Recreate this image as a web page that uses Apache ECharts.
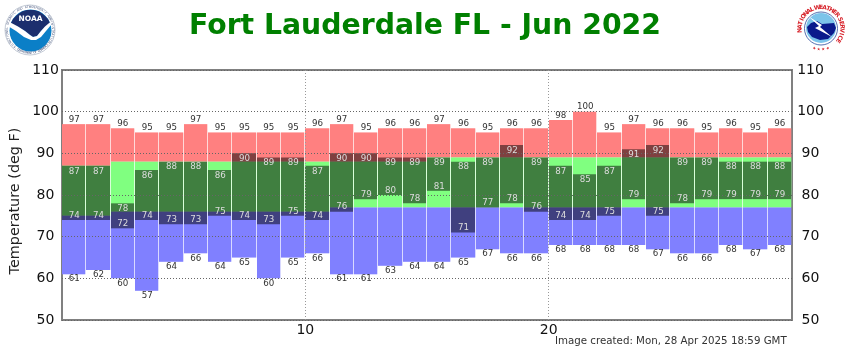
<!DOCTYPE html>
<html>
<head>
<meta charset="utf-8">
<style>html,body{margin:0;padding:0;background:#fff}#c{width:850px;height:350px}</style>
<script src="https://cdn.jsdelivr.net/npm/echarts@6/dist/echarts.min.js"></script>
</head>
<body>
<div id="c"></div>
<script>
const titleText = "Fort Lauderdale FL - Jun 2022";
const yAxisName = "Temperature (deg F)";
const createdText = "Image created: Mon, 28 Apr 2025 18:59 GMT";
const days = [1,2,3,4,5,6,7,8,9,10,11,12,13,14,15,16,17,18,19,20,21,22,23,24,25,26,27,28,29,30];
const recordHigh = [97,97,96,95,95,97,95,95,95,95,96,97,95,96,96,97,96,95,96,96,98,100,95,97,96,96,95,96,95,96];
const normalHigh = [87,87,88,88,88,88,88,88,88,88,88,88,88,88,88,89,89,89,89,89,89,89,89,89,89,89,89,89,89,89];
const observedHigh = [87,87,78,86,88,88,86,90,89,89,87,90,90,89,89,89,88,89,92,89,87,85,87,91,92,89,89,88,88,88];
const observedLow = [74,74,72,74,73,73,75,74,73,75,74,76,79,80,78,81,71,77,78,76,74,74,75,79,75,78,79,79,79,79];
const normalLow = [75,75,76,76,76,76,76,76,76,76,76,77,77,77,77,77,77,77,77,77,77,77,77,77,77,77,77,77,77,77];
const recordLow = [61,62,60,57,64,66,64,65,60,65,66,61,61,63,64,64,65,67,66,66,68,68,68,68,67,66,66,68,67,68];

const chart = echarts.init(document.getElementById('c'), null, {renderer:'canvas'});
const FONT = '"DejaVu Sans", sans-serif';

function rangeSeries(name, lows, highs, fill, edge, z) {
  return {
    name, type:'custom', z, silent:true, clip:true,
    data: days.map((d,i)=>[d, lows[i], highs[i]]),
    encode:{x:0, y:[1,2]},
    renderItem(params, api){
      const d = api.value(0), lo = api.value(1), hi = api.value(2);
      if (hi <= lo) return {type:'group', children:[]};
      const a = api.coord([d-1, hi]), b = api.coord([d, lo]);
      const x0 = Math.round(a[0]), x1 = Math.round(b[0]);
      const y = a[1], h = b[1]-a[1];
      const children = [];
      if (edge) children.push({type:'rect', shape:{x:x0, y, width:x1-x0, height:h}, style:{fill:edge}});
      children.push({type:'rect', shape:{x:x0, y, width:x1-x0-1, height:h}, style:{fill}});
      return {type:'group', children};
    }
  };
}
function labelSeries(name, vals, dy, color, z) {
  return {
    name, type:'custom', z, silent:true, clip:false,
    data: days.map((d,i)=>[d, vals[i]]),
    encode:{x:0, y:1},
    renderItem(params, api){
      const d = api.value(0), v = api.value(1);
      const p = api.coord([d-0.5, v]);
      return {type:'text', z2:100,
        style:{text:String(v), x:p[0], y:p[1]+dy, fill:color,
          align:'center', verticalAlign:'middle', font:'8.7px '+FONT}};
    }
  };
}

// Logos
const g = [];
function ringText(text, cx, cy, r, startDeg, endDeg, fill, font, flip){
  const n = text.length;
  for (let i=0;i<n;i++){
    const t = startDeg + (endDeg-startDeg)*(i+0.5)/n;
    const rad = t*Math.PI/180;
    g.push({type:'text', x:cx+r*Math.sin(rad), y:cy-r*Math.cos(rad),
      rotation: flip ? -(t-180)*Math.PI/180 : -rad, silent:true,
      style:{text:text[i], fill, font, align:'center', verticalAlign:'middle'}});
  }
}
function poly(points, fill){ g.push({type:'polygon', silent:true, shape:{points}, style:{fill}}); }
// NOAA
g.push({type:'circle', shape:{cx:30,cy:30,r:25}, style:{fill:'#fff', stroke:'#9aa6b8', lineWidth:0.6}, silent:true});
g.push({type:'circle', shape:{cx:30.5,cy:30.5,r:21}, style:{fill:'#0b7fc7'}, silent:true});
poly([[10.5,24],[13,19],[17,15],[22,11.5],[27,10],[34,10],[39,11.5],[44,15],[48,19],[50.5,24],[45,27],[41,31],[37,36],[33,37],[30,35],[25,31],[18,27]], '#1c2f6e');
poly([[9.5,22],[18,26.5],[25,31],[30,35],[33,37],[37,36],[41,31],[45,26.5],[51.5,21],[51,25],[46,31],[41,37],[36,40],[31,40],[24,37],[16,31],[9.5,27]], '#fff');
g.push({type:'text', x:30.5, y:19, silent:true, style:{text:'NOAA', fill:'#fff', font:'bold 7.5px '+FONT, align:'center', verticalAlign:'middle'}});
ringText('NATIONAL OCEANIC AND ATMOSPHERIC ADMINISTRATION', 30, 30, 23, -125, 125, '#46557c', '3px '+FONT);
ringText('U.S. DEPARTMENT OF COMMERCE', 30, 30, 23, 232, 128, '#46557c', '3px '+FONT, true);
// NWS
g.push({type:'circle', shape:{cx:821,cy:28.5,r:16.5}, style:{fill:'#fff', stroke:'#2a4a9a', lineWidth:0.8}, silent:true});
g.push({type:'circle', shape:{cx:821,cy:28,r:15}, style:{fill:'#7cc4ea'}, silent:true});
poly([[807,27],[811,23],[817,21],[822,24],[834,23],[836,28],[834,33],[828,39],[820,40],[812,37],[808,32]], '#0a1a8c');
poly([[808,16],[822,25],[820,27],[832,37],[815,28],[819,26]], '#fff');
ringText('NATIONAL', 821, 28.5, 21, -100, -20, '#d7222a', 'bold 6px '+FONT);
ringText('WEATHER', 821, 28.5, 21, -15, 55, '#d7222a', 'bold 6px '+FONT);
ringText('SERVICE', 821, 28.5, 21, 60, 130, '#d7222a', 'bold 6px '+FONT);
ringText('\u2605\u2605\u2605\u2605', 821, 28.5, 21, 205, 155, '#d7222a', '4px '+FONT, true);
// Footer and rotated axis title
g.push({type:'text', x:555, y:341, silent:true, style:{text:createdText, fill:'#333', font:'10.25px '+FONT, verticalAlign:'middle'}});
g.push({type:'text', x:15.5, y:201, rotation:Math.PI/2, silent:true, style:{text:yAxisName, fill:'#222', font:'14.4px '+FONT, align:'center', verticalAlign:'middle'}});

chart.setOption({
  animation:false,
  backgroundColor:'#fff',
  title:{text:titleText, left:'center', top:5, textStyle:{color:'#008000', fontFamily:'"DejaVu Sans"', fontWeight:'bold', fontSize:28.3, lineHeight:34}},
  grid:{left:62, right:58, top:70, bottom:30, show:true, borderColor:'#808080', borderWidth:2, backgroundColor:'#fff', outerBoundsMode:'none'},
  xAxis:{type:'value', min:0, max:30, interval:10, z:5,
    axisLine:{show:false}, axisTick:{show:false},
    axisLabel:{showMinLabel:false, showMaxLabel:false, color:'#111', fontSize:14, fontFamily:'"DejaVu Sans"', margin:3},
    splitLine:{show:true, showMinLine:false, showMaxLine:false, lineStyle:{type:[1,2], color:'#999', width:1}}},
  yAxis:[
    {type:'value', min:50, max:110, interval:10, z:5,
     axisLine:{show:false}, axisTick:{show:false},
     axisLabel:{color:'#111', fontSize:14, fontFamily:'"DejaVu Sans"', align:'center', margin:16.5},
     splitLine:{show:true, lineStyle:{type:[1,2], color:'#666', width:1}}},
    {type:'value', min:50, max:110, interval:10, position:'right', z:5,
     axisLine:{show:false}, axisTick:{show:false},
     axisLabel:{color:'#111', fontSize:14, fontFamily:'"DejaVu Sans"', align:'center', margin:18.5},
     splitLine:{show:false}}
  ],
  graphic:{elements:g},
  series:[
    rangeSeries('Record high', normalHigh, recordHigh, '#ff8080', 'rgba(255,128,128,0.3)', 2),
    rangeSeries('Normal range', normalLow, normalHigh, '#80ff80', 'rgba(128,255,128,0.3)', 2),
    rangeSeries('Record low', recordLow, normalLow, '#8080ff', 'rgba(128,128,255,0.3)', 2),
    rangeSeries('Observed', observedLow, observedHigh, 'rgba(0,0,0,0.5)', null, 3),
    labelSeries('Record high label', recordHigh, -4.5, '#333', 6),
    labelSeries('Record low label', recordLow, 5, '#333', 6),
    labelSeries('Observed high label', observedHigh, 5.5, '#ddd', 6),
    labelSeries('Observed low label', observedLow, -4.5, '#ddd', 6)
  ]
});
</script>
</body>
</html>
